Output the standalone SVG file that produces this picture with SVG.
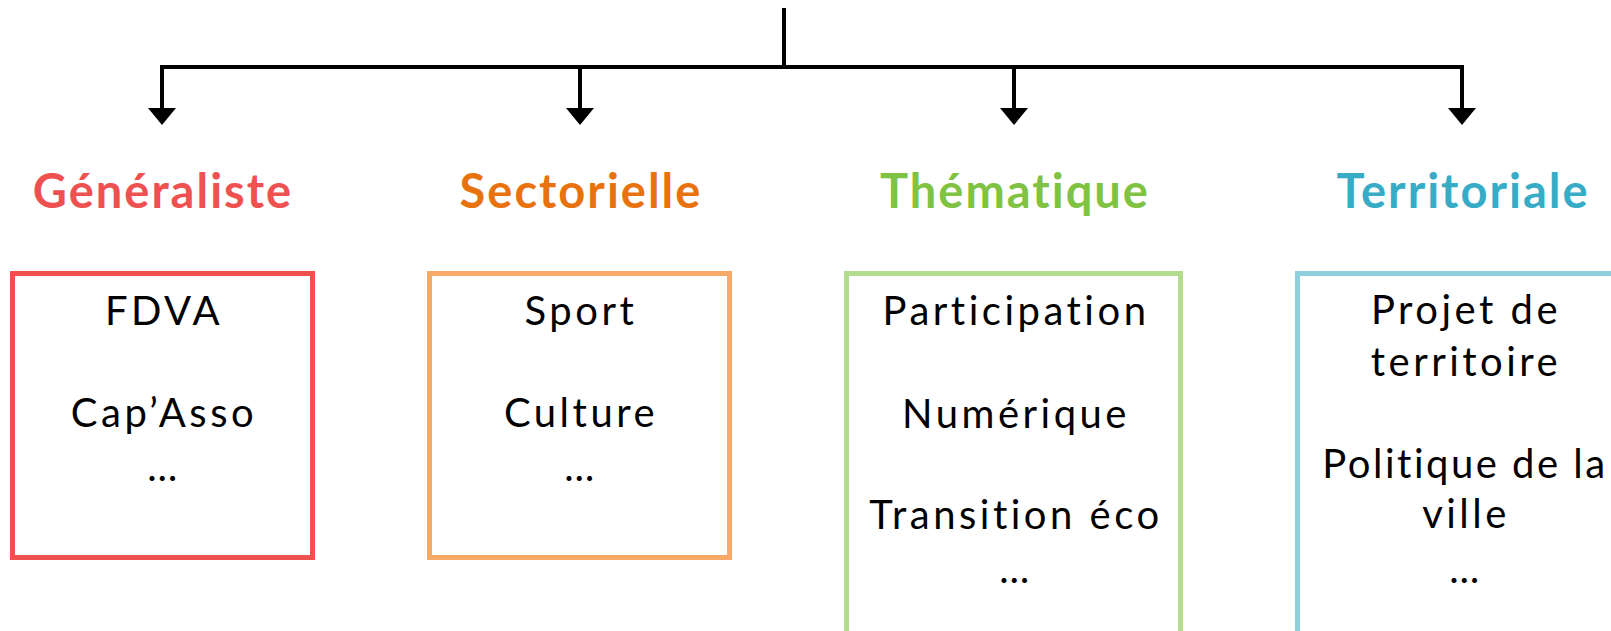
<svg xmlns="http://www.w3.org/2000/svg" width="1611" height="631" viewBox="0 0 1611 631">
  <style>
    .title { font-family: Lato, "Liberation Sans", sans-serif; font-weight: 700; font-size: 47px; letter-spacing: 2px; text-anchor: middle; }
    .body { font-family: Lato, "Liberation Sans", sans-serif; font-weight: 400; font-size: 40px; letter-spacing: 3.5px; text-anchor: middle; fill: #000; }
    .tight { letter-spacing: 2.5px; }
    .box { fill: #fff; stroke-width: 5; }
    .conn { stroke: #000; stroke-width: 4; fill: none; }
    .head { fill: #000; }
  </style>
  <rect width="1611" height="631" fill="#fff"/>
  <g id="connectors">
    <path class="conn" d="M784,8 V67"/>
    <path class="conn" d="M162,67 H1462"/>
    <path class="conn" d="M162,65 V109"/>
    <path class="conn" d="M580,67 V109"/>
    <path class="conn" d="M1014,67 V109"/>
    <path class="conn" d="M1462,65 V109"/>
    <polygon class="head" points="148,108 176,108 162,125"/>
    <polygon class="head" points="566,108 594,108 580,125"/>
    <polygon class="head" points="1000,108 1028,108 1014,125"/>
    <polygon class="head" points="1448,108 1476,108 1462,125"/>
  </g>
  <g id="node-generaliste">
    <text class="title" x="163" y="208" fill="#EF5151">Généraliste</text>
    <rect class="box" x="12.5" y="273.5" width="300" height="284" stroke="#EF5151"/>
    <text class="body" x="164" y="325">FDVA</text>
    <text class="body" x="164" y="427">Cap’Asso</text>
    <text class="body" x="164" y="481">…</text>
  </g>
  <g id="node-sectorielle">
    <text class="title" x="581" y="208" fill="#E8730E">Sectorielle</text>
    <rect class="box" x="429.5" y="273.5" width="300" height="284" stroke="#F6AA66"/>
    <text class="body" x="581" y="325">Sport</text>
    <text class="body" x="581" y="427">Culture</text>
    <text class="body" x="581" y="481">…</text>
  </g>
  <g id="node-thematique">
    <text class="title" x="1015" y="208" fill="#80C342">Thématique</text>
    <rect class="box" x="846.5" y="273.5" width="334" height="380" stroke="#B2DC8E"/>
    <text class="body" x="1016" y="325">Participation</text>
    <text class="body" x="1016" y="428">Numérique</text>
    <text class="body" x="1016" y="529">Transition éco</text>
    <text class="body" x="1016" y="583">…</text>
  </g>
  <g id="node-territoriale">
    <text class="title" x="1463" y="208" fill="#38ACC6">Territoriale</text>
    <rect class="box" x="1297.5" y="273.5" width="334" height="380" stroke="#8DD0DE"/>
    <text class="body" x="1466" y="324">Projet de</text>
    <text class="body" x="1466" y="376">territoire</text>
    <text class="body tight" x="1465" y="478">Politique de la</text>
    <text class="body" x="1466" y="528">ville</text>
    <text class="body" x="1466" y="583">…</text>
  </g>
</svg>
